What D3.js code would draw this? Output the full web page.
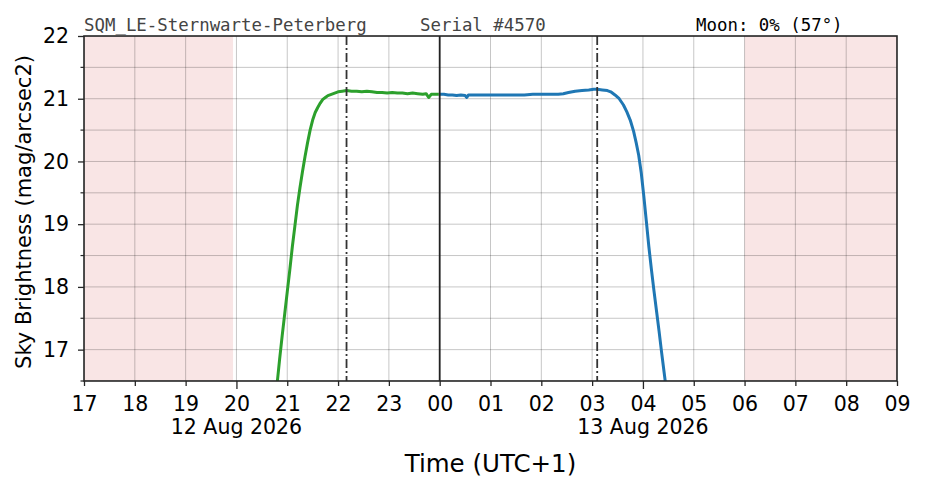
<!DOCTYPE html>
<html>
<head>
<meta charset="utf-8">
<script src="https://cdn.jsdelivr.net/npm/d3@7"></script>
<style>
  body { margin: 0; background: #fff; }
  svg { display: block; }
</style>
</head>
<body>
<div id="chart"></div>
<script>
// Header texts
const siteName = "SQM_LE-Sternwarte-Peterberg";
const serialText = "Serial #4570";
const moonText = "Moon: 0% (57\u00b0)";

// Evening readings (12 Aug) - green
const eveningTimes = [
  "2026-08-12 20:48", "2026-08-12 20:51", "2026-08-12 20:54", "2026-08-12 20:57",
  "2026-08-12 21:00", "2026-08-12 21:03", "2026-08-12 21:06", "2026-08-12 21:09",
  "2026-08-12 21:12", "2026-08-12 21:15", "2026-08-12 21:18", "2026-08-12 21:21",
  "2026-08-12 21:24", "2026-08-12 21:27", "2026-08-12 21:30", "2026-08-12 21:33",
  "2026-08-12 21:36", "2026-08-12 21:39", "2026-08-12 21:42", "2026-08-12 21:45",
  "2026-08-12 21:48", "2026-08-12 21:52", "2026-08-12 21:56", "2026-08-12 22:00",
  "2026-08-12 22:05", "2026-08-12 22:10", "2026-08-12 22:16", "2026-08-12 22:22",
  "2026-08-12 22:28", "2026-08-12 22:34", "2026-08-12 22:40", "2026-08-12 22:46",
  "2026-08-12 22:52", "2026-08-12 22:58", "2026-08-12 23:04", "2026-08-12 23:10",
  "2026-08-12 23:16", "2026-08-12 23:22", "2026-08-12 23:28", "2026-08-12 23:34",
  "2026-08-12 23:40", "2026-08-12 23:44", "2026-08-12 23:47", "2026-08-12 23:50",
  "2026-08-12 23:54", "2026-08-12 23:59"
];
const eveningValues = [
  16.45, 16.85, 17.22, 17.57,
  17.92, 18.27, 18.64, 18.97,
  19.30, 19.58, 19.84, 20.08,
  20.30, 20.50, 20.66, 20.78,
  20.86, 20.93, 20.99, 21.02,
  21.05, 21.07, 21.09, 21.11,
  21.12, 21.13, 21.12, 21.12,
  21.11, 21.12, 21.11, 21.10,
  21.10, 21.09, 21.10, 21.09,
  21.09, 21.08, 21.09, 21.08,
  21.07, 21.08, 21.02, 21.07,
  21.07, 21.07
];

// Morning readings (13 Aug) - blue
const morningTimes = [
  "2026-08-13 00:00", "2026-08-13 00:05", "2026-08-13 00:10", "2026-08-13 00:15",
  "2026-08-13 00:20", "2026-08-13 00:25", "2026-08-13 00:30", "2026-08-13 00:32",
  "2026-08-13 00:34", "2026-08-13 00:40", "2026-08-13 00:50", "2026-08-13 01:00",
  "2026-08-13 01:10", "2026-08-13 01:20", "2026-08-13 01:30", "2026-08-13 01:40",
  "2026-08-13 01:50", "2026-08-13 02:00", "2026-08-13 02:10", "2026-08-13 02:20",
  "2026-08-13 02:26", "2026-08-13 02:32", "2026-08-13 02:40", "2026-08-13 02:48",
  "2026-08-13 02:56", "2026-08-13 03:02", "2026-08-13 03:06", "2026-08-13 03:12",
  "2026-08-13 03:18", "2026-08-13 03:22", "2026-08-13 03:27", "2026-08-13 03:32",
  "2026-08-13 03:37", "2026-08-13 03:41", "2026-08-13 03:45", "2026-08-13 03:49",
  "2026-08-13 03:52", "2026-08-13 03:55", "2026-08-13 03:58", "2026-08-13 04:01",
  "2026-08-13 04:04", "2026-08-13 04:07", "2026-08-13 04:10", "2026-08-13 04:13",
  "2026-08-13 04:16", "2026-08-13 04:19", "2026-08-13 04:22", "2026-08-13 04:25",
  "2026-08-13 04:28"
];
const morningValues = [
  21.07, 21.07, 21.06, 21.06,
  21.05, 21.06, 21.05, 21.02,
  21.06, 21.06, 21.06, 21.06,
  21.06, 21.06, 21.06, 21.06,
  21.07, 21.07, 21.07, 21.07,
  21.08, 21.10, 21.12, 21.13,
  21.14, 21.15, 21.15, 21.14,
  21.13, 21.11, 21.06, 21.00,
  20.90, 20.79, 20.66, 20.48,
  20.30, 20.10, 19.82, 19.45,
  19.05, 18.64, 18.28, 17.94,
  17.62, 17.30, 16.96, 16.64,
  16.32
];

// Daylight spans (shaded), twilight markers (dash-dot), midnight (solid)
const daySpans = [
  ["2026-08-12 17:00", "2026-08-12 19:56"],
  ["2026-08-13 06:00", "2026-08-13 09:00"]
];
const twilightTimes = ["2026-08-12 22:10", "2026-08-13 03:06"];
const midnightTime = "2026-08-13 00:00";

// Axis ranges and labels
const timeStart = "2026-08-12 17:00";
const timeEnd = "2026-08-13 09:00";
const yTicks = [17, 18, 19, 20, 21, 22];
const yMinorTicks = [16.5, 17.5, 18.5, 19.5, 20.5, 21.5];
const dateTickTimes = ["2026-08-12 20:00", "2026-08-13 04:00"];
const dateTickLabels = ["12 Aug 2026", "13 Aug 2026"];

// Sizes
const width = 926;
const height = 488;
const margin = { top: 36, right: 29, bottom: 107, left: 84 };
const innerW = width - margin.left - margin.right;
const innerH = height - margin.top - margin.bottom;

const parseTime = d3.utcParse("%Y-%m-%d %H:%M");

const evening = eveningTimes.map((t, i) => ({ date: parseTime(t), value: eveningValues[i] }));
const morning = morningTimes.map((t, i) => ({ date: parseTime(t), value: morningValues[i] }));

// Scales
const xScale = d3
  .scaleUtc()
  .domain([parseTime(timeStart), parseTime(timeEnd)])
  .range([0, innerW]);

const yScale = d3.scaleLinear().domain([16.5, 22]).range([innerH, 0]);

const svg = d3
  .select("#chart")
  .append("svg")
  .attr("width", width)
  .attr("height", height)
  .style("font-family", "'DejaVu Sans', sans-serif");

const g = svg.append("g").attr("transform", `translate(${margin.left}, ${margin.top})`);

// Clip to the plot area
svg
  .append("defs")
  .append("clipPath")
  .attr("id", "clip")
  .append("rect")
  .attr("width", innerW)
  .attr("height", innerH);

const plot = g.append("g").attr("clip-path", "url(#clip)");

// Shaded daylight
plot
  .selectAll(".day")
  .data(daySpans)
  .enter()
  .append("rect")
  .attr("class", "day")
  .attr("x", (d) => xScale(parseTime(d[0])))
  .attr("width", (d) => xScale(parseTime(d[1])) - xScale(parseTime(d[0])))
  .attr("y", 0)
  .attr("height", innerH)
  .attr("fill", "#f9e5e5");

// Grid: every hour, every half magnitude
const hourTicks = xScale.ticks(d3.utcHour.every(1));
plot
  .append("g")
  .selectAll("line")
  .data(hourTicks)
  .enter()
  .append("line")
  .attr("x1", (d) => xScale(d))
  .attr("x2", (d) => xScale(d))
  .attr("y1", 0)
  .attr("y2", innerH)
  .attr("stroke", "rgba(0,0,0,0.25)")
  .attr("stroke-width", 0.9);

plot
  .append("g")
  .selectAll("line")
  .data(yTicks.concat(yMinorTicks))
  .enter()
  .append("line")
  .attr("x1", 0)
  .attr("x2", innerW)
  .attr("y1", (d) => yScale(d))
  .attr("y2", (d) => yScale(d))
  .attr("stroke", "rgba(0,0,0,0.25)")
  .attr("stroke-width", 0.9);

// Brightness lines
const line = d3
  .line()
  .x((d) => xScale(d.date))
  .y((d) => yScale(d.value));

plot
  .append("path")
  .datum(evening)
  .attr("d", line)
  .attr("fill", "none")
  .attr("stroke", "#2ca02c")
  .attr("stroke-width", 3)
  .attr("stroke-linejoin", "round");

plot
  .append("path")
  .datum(morning)
  .attr("d", line)
  .attr("fill", "none")
  .attr("stroke", "#1f77b4")
  .attr("stroke-width", 3)
  .attr("stroke-linejoin", "round");

// Twilight markers and midnight
plot
  .selectAll(".twilight")
  .data(twilightTimes)
  .enter()
  .append("line")
  .attr("class", "twilight")
  .attr("x1", (d) => xScale(parseTime(d)))
  .attr("x2", (d) => xScale(parseTime(d)))
  .attr("y1", 0)
  .attr("y2", innerH)
  .attr("stroke", "#333")
  .attr("stroke-width", 1.8)
  .attr("stroke-dasharray", "9,3,2,3");

plot
  .append("line")
  .attr("x1", xScale(parseTime(midnightTime)))
  .attr("x2", xScale(parseTime(midnightTime)))
  .attr("y1", 0)
  .attr("y2", innerH)
  .attr("stroke", "#222")
  .attr("stroke-width", 1.8);

// X axis - hour labels
const xAxisG = g
  .append("g")
  .attr("transform", `translate(0, ${innerH})`)
  .call(
    d3
      .axisBottom(xScale)
      .tickValues(hourTicks)
      .tickFormat(d3.utcFormat("%H"))
      .tickSize(5)
      .tickSizeOuter(0)
      .tickPadding(10)
  );

// Longer ticks at date labels
const dateTicks = dateTickTimes.map(parseTime);
xAxisG
  .selectAll(".tick line")
  .filter((d) => dateTicks.some((t) => +t === +d))
  .attr("y2", 8);

g.append("g")
  .selectAll("text")
  .data(dateTickTimes)
  .enter()
  .append("text")
  .attr("x", (d) => xScale(parseTime(d)))
  .attr("y", innerH + 53)
  .attr("text-anchor", "middle")
  .attr("font-size", 20.5)
  .attr("fill", "#000")
  .text((d, i) => dateTickLabels[i]);

// Y axis
const yAxisG = g
  .append("g")
  .call(
    d3
      .axisLeft(yScale)
      .tickValues(yTicks)
      .tickFormat(d3.format("d"))
      .tickSize(6)
      .tickPadding(9)
      .tickSizeOuter(0)
  );

g.append("g")
  .selectAll("line")
  .data(yMinorTicks)
  .enter()
  .append("line")
  .attr("x1", 0)
  .attr("x2", -3.5)
  .attr("y1", (d) => yScale(d))
  .attr("y2", (d) => yScale(d))
  .attr("stroke", "#262626")
  .attr("stroke-width", 1.2);

for (const axisG of [xAxisG, yAxisG]) {
  axisG.selectAll("text").attr("font-size", 20.5).attr("fill", "#000").style("font-family", "'DejaVu Sans', sans-serif");
  axisG.selectAll(".tick line").attr("stroke", "#262626").attr("stroke-width", 1.3);
  axisG.select(".domain").remove();
}

// Frame
g.append("rect")
  .attr("width", innerW)
  .attr("height", innerH)
  .attr("fill", "none")
  .attr("stroke", "#262626")
  .attr("stroke-width", 1.6);

// Axis titles
svg
  .append("text")
  .attr("x", margin.left + innerW / 2)
  .attr("y", 472)
  .attr("text-anchor", "middle")
  .attr("font-size", 24.5)
  .attr("fill", "#000")
  .text("Time (UTC+1)");

svg
  .append("text")
  .attr("transform", "translate(31, 212) rotate(-90)")
  .attr("text-anchor", "middle")
  .attr("font-size", 21)
  .attr("fill", "#000")
  .text("Sky Brightness (mag/arcsec2)");

// Header
const header = svg
  .append("g")
  .style("font-family", "'DejaVu Sans Mono', monospace")
  .attr("font-size", 17.4);

header.append("text").attr("x", 84).attr("y", 31).attr("fill", "#444").text(siteName);
header.append("text").attr("x", 420).attr("y", 31).attr("fill", "#444").text(serialText);
header.append("text").attr("x", 696).attr("y", 31).attr("fill", "#000").text(moonText);
</script>
</body>
</html>
